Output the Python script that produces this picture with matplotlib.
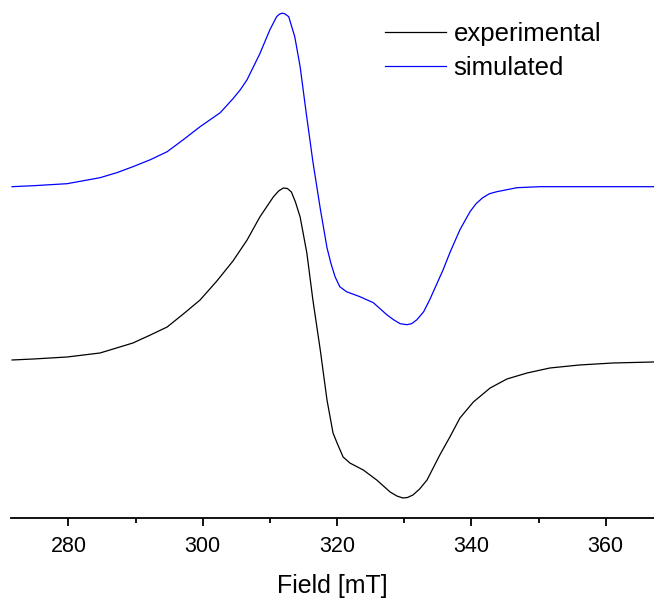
import numpy as np
import matplotlib.pyplot as plt

plt.rcParams['font.family'] = ['Liberation Sans', 'DejaVu Sans']

# field (mT) and intensity (a.u.)
field_exp = [271.6, 274.8, 279.8, 284.7, 289.6, 292.2, 294.7, 297.1, 299.6, 302.1,
             304.5, 306.6, 308.5, 310.5, 311.3, 312.0, 312.6, 313.2, 313.8, 314.5,
             315.5, 316.4, 317.5, 318.5, 319.4, 320.0, 320.9, 321.9, 323.9, 325.9,
             327.9, 328.9, 329.8, 330.5, 331.3, 332.3, 333.4, 335.3, 336.8, 338.3,
             340.3, 342.8, 345.3, 348.3, 351.7, 356.1, 361.1, 367.2]
exp_int = [0.00, 0.01, 0.03, 0.07, 0.17, 0.25, 0.33, 0.46, 0.60, 0.79,
           0.99, 1.20, 1.43, 1.63, 1.69, 1.72, 1.715, 1.68, 1.58, 1.43,
           1.07, 0.60, 0.10, -0.40, -0.73, -0.83, -0.97, -1.03, -1.10, -1.20,
           -1.32, -1.36, -1.38, -1.375, -1.35, -1.29, -1.20, -0.95, -0.77, -0.58,
           -0.42, -0.28, -0.19, -0.13, -0.08, -0.05, -0.03, -0.02]

field_sim = [271.6, 274.8, 279.8, 284.7, 287.2, 289.6, 292.2, 294.7, 297.1, 299.6,
             302.6, 304.5, 305.6, 306.6, 308.5, 310.0, 311.0, 311.4, 311.8, 312.2,
             312.8, 313.7, 314.5, 315.4, 316.4, 317.5, 318.5, 319.1, 319.7, 320.4,
             321.4, 323.4, 325.4, 327.4, 328.4, 329.4, 330.4, 331.1, 331.9, 332.9,
             333.8, 335.8, 336.8, 338.3, 339.8, 340.7, 341.7, 342.7, 343.8, 346.8,
             350.2, 367.2]
sim_int = [0.00, 0.01, 0.03, 0.09, 0.14, 0.20, 0.27, 0.35, 0.47, 0.60,
           0.74, 0.88, 0.97, 1.07, 1.33, 1.57, 1.70, 1.725, 1.735, 1.73,
           1.70, 1.50, 1.20, 0.74, 0.25, -0.22, -0.61, -0.77, -0.90, -1.00,
           -1.05, -1.10, -1.16, -1.28, -1.33, -1.37, -1.38, -1.37, -1.33, -1.25,
           -1.13, -0.83, -0.66, -0.43, -0.25, -0.17, -0.11, -0.07, -0.05, -0.01,
           0.00, 0.00]

offset = 1.733

fig = plt.figure(figsize=(6.54, 6.0), dpi=100)
ax = fig.add_axes([0.0164, 0.1367, 0.9836, 0.8633])

ax.plot(field_exp, exp_int, color='black', lw=0.9, label='experimental')
ax.plot(field_sim, np.array(sim_int) + offset, color='#0000ff', lw=0.9, label='simulated')

ax.set_xlim(271.4, 367.2)
ax.set_ylim(-1.58, 3.60)

for s in ['top', 'right', 'left']:
    ax.spines[s].set_visible(False)
ax.spines['bottom'].set_linewidth(1.3)
ax.set_yticks([])
ax.set_xticks([280, 300, 320, 340, 360])
ax.set_xticks(np.arange(290, 370, 20), minor=True)
ax.tick_params(axis='x', which='major', direction='out', length=6, width=1.3,
               labelsize=15.5, pad=7)
ax.tick_params(axis='x', which='minor', direction='out', length=3.5, width=1.3)
ax.set_xlabel('Field [mT]', fontsize=18, labelpad=12)

ax.legend(loc='upper left', bbox_to_anchor=(0.582, 0.958), frameon=False,
          fontsize=18.5, handlelength=2.37, handletextpad=0.3, labelspacing=0.4,
          borderpad=0, borderaxespad=0)

plt.savefig('out.png', dpi=100)
